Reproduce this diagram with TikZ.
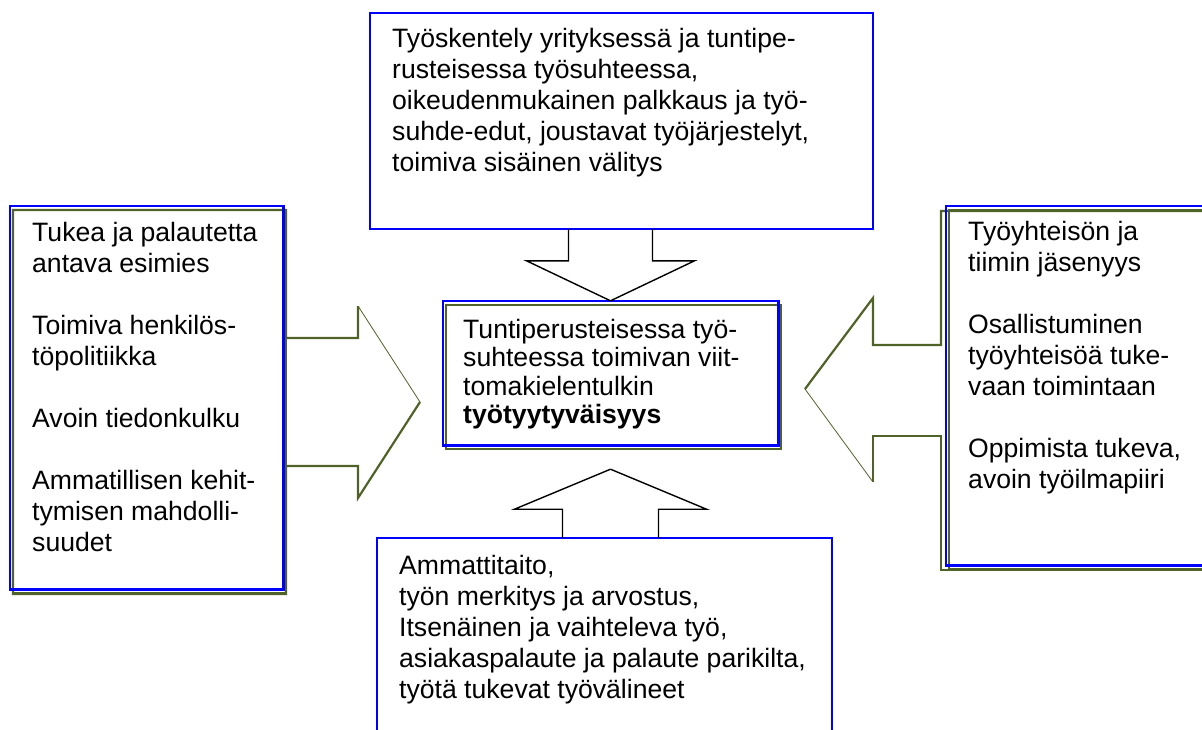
\documentclass[tikz,border=0pt]{standalone}
\usepackage{fontspec}
\setmainfont{Liberation Sans}
\usetikzlibrary{calc}
\definecolor{olivedk}{RGB}{79,98,40}
\definecolor{framebl}{RGB}{0,0,255}

\begin{document}
\begin{tikzpicture}[x=1pt,y=-1pt,
  boxthin/.style={draw=framebl,line width=1.3pt,inner sep=0pt},
  boxthick/.style={inner sep=0pt},
  shade/.style={draw=olivedk,line width=2pt},
  callout/.style={draw=olivedk,line width=2.2pt},
  blockarr/.style={draw=black,line width=1.4pt},
  txt/.style={anchor=base west,inner sep=0pt,align=left,font=\fontsize{26.6pt}{31pt}\selectfont}]
\useasboundingbox (0,0) rectangle (1202,729);

%callouts
\draw[callout] (358,306) -- (358,338) -- (286,338) -- (286,210) -- (13,210) -- (13,594) -- (286,594) -- (286,466) -- (358,466) -- (358,498) -- (420,402);
\draw[draw=olivedk,line width=0.8pt] (358,306) -- (420,402);
\draw[callout] (873,482) -- (873,436) -- (941,436) -- (941,570) -- (1210,570);
\draw[callout] (1210,211) -- (941,211) -- (941,345) -- (873,345) -- (873,298) -- (805,389);
\draw[draw=olivedk,line width=0.8pt] (805,389) -- (873,482);

%boxes
\node[boxthin,minimum width=503pt,minimum height=216pt] (top) at (621.5,121) {};
\node[boxthin,minimum width=455pt,minimum height=202pt] (bottom) at (604.5,639) {};
\node[boxthick,minimum width=335pt,minimum height=144pt] (core) at (610.5,373) {};
\node[boxthick,minimum width=273pt,minimum height=383pt] (left) at (146.5,397.5) {};
\node[boxthick,minimum width=262pt,minimum height=359pt] (right) at (1077,385.5) {};

%shadows, then blue frames
\foreach \b in {core,left,right}
  \draw[shade] ([shift={(3,4)}]\b.north west) rectangle ([shift={(3,4)}]\b.south east);
\foreach \b in {core,left,right}
  \draw[framebl,line width=2.6pt] (\b.north west) rectangle (\b.south east);

%arrows
\draw[blockarr] (core.north) -- ++(-84,-40) -- ++(42,0) -- ++(0,-32);
\draw[blockarr] (core.north) -- ++(84,-40) -- ++(-42,0) -- ++(0,-32);
\coordinate (uptip) at ($(core.south)+(0,24)$);
\draw[blockarr] (uptip) -- ++(-96,40) -- ++(48,0) -- ++(0,29);
\draw[blockarr] (uptip) -- ++(96,40) -- ++(-48,0) -- ++(0,29);

%texts (base = last line)
\node[txt] (toptext) at (392,171) {Työskentely yrityksessä ja tuntipe-\\rusteisessa työsuhteessa,\\oikeudenmukainen palkkaus ja työ-\\suhde-edut, joustavat työjärjestelyt,\\toimiva sisäinen välitys};
\node[txt] (lefttext) at (32,551) {Tukea ja palautetta\\antava esimies\\[31pt]Toimiva henkilös-\\töpolitiikka\\[31pt]Avoin tiedonkulku\\[31pt]Ammatillisen kehit-\\tymisen mahdolli-\\suudet};
\node[txt,font=\fontsize{26.6pt}{28.5pt}\selectfont] (coretext) at (463,423.5) {Tuntiperusteisessa työ-\\suhteessa toimivan viit-\\tomakielentulkin\\\textbf{työtyytyväisyys}};
\node[txt] (righttext) at (968,488) {Työyhteisön ja\\tiimin jäsenyys\\[31pt]Osallistuminen\\työyhteisöä tuke-\\vaan toimintaan\\[31pt]Oppimista tukeva,\\avoin työilmapiiri};
\node[txt] (bottomtext) at (399,698) {Ammattitaito,\\työn merkitys ja arvostus,\\Itsenäinen ja vaihteleva työ,\\asiakaspalaute ja palaute parikilta,\\työtä tukevat työvälineet};
\end{tikzpicture}
\end{document}
